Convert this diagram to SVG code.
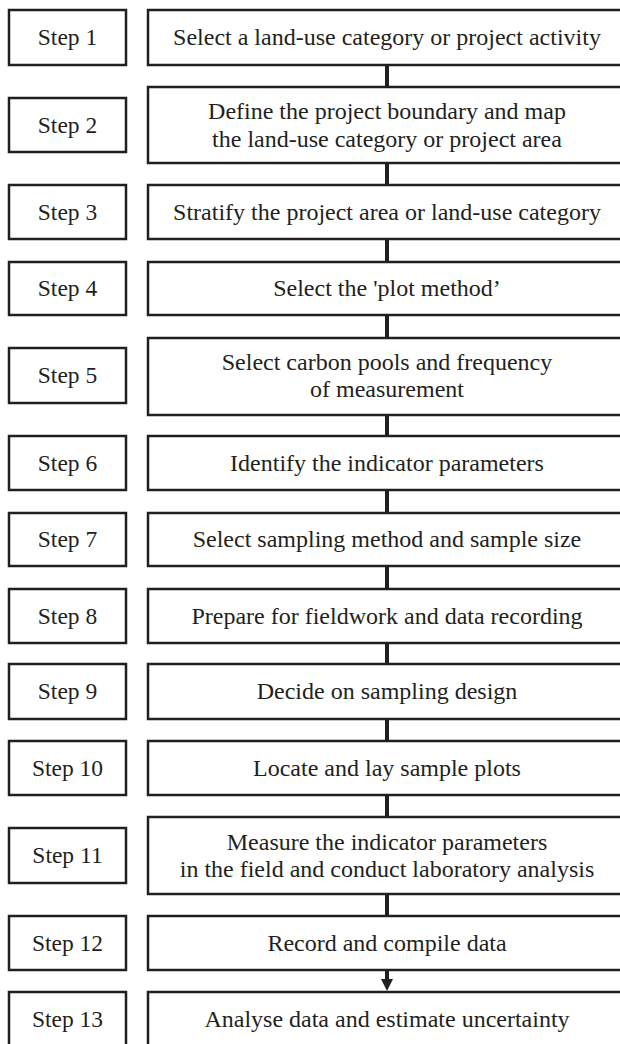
<svg xmlns="http://www.w3.org/2000/svg" width="620" height="1044" viewBox="0 0 620 1044">
  <style>
    .box { fill: #ffffff; stroke: #231f20; stroke-width: 2.5; }
    .lbl { font-family: "Liberation Serif", "Times New Roman", serif; font-size: 24px; fill: #231f20; text-anchor: middle; }
    .num { font-size: 23.5px; }
    .link { stroke: #231f20; stroke-width: 4; fill: none; }
    .head { fill: #231f20; stroke: none; }
  </style>
  <rect width="620" height="1044" fill="#ffffff"/>

  <!-- connectors between consecutive steps -->
  <g id="connectors">
    <line class="link" x1="387" y1="65" x2="387" y2="87"/>
    <line class="link" x1="387" y1="163" x2="387" y2="185"/>
    <line class="link" x1="387" y1="239" x2="387" y2="262"/>
    <line class="link" x1="387" y1="315" x2="387" y2="338"/>
    <line class="link" x1="387" y1="415" x2="387" y2="436"/>
    <line class="link" x1="387" y1="490" x2="387" y2="513"/>
    <line class="link" x1="387" y1="566" x2="387" y2="589"/>
    <line class="link" x1="387" y1="643" x2="387" y2="664"/>
    <line class="link" x1="387" y1="719" x2="387" y2="741"/>
    <line class="link" x1="387" y1="795" x2="387" y2="817"/>
    <line class="link" x1="387" y1="894" x2="387" y2="916"/>
    <line class="link" x1="387" y1="970" x2="387" y2="982"/>
    <path class="head" d="M381,979 L393,979 L387,991 Z"/>
  </g>

  <g id="step1">
    <rect class="box" x="9" y="10" width="117" height="55"/>
    <text class="lbl num" x="67.5" y="45">Step 1</text>
    <rect class="box" x="148" y="10" width="478" height="55"/>
    <text class="lbl" x="387" y="45">Select a land-use category or project activity</text>
  </g>

  <g id="step2">
    <rect class="box" x="9" y="98" width="117" height="54"/>
    <text class="lbl num" x="67.5" y="133">Step 2</text>
    <rect class="box" x="148" y="87" width="478" height="76"/>
    <text class="lbl" x="387" y="119">Define the project boundary and map</text>
    <text class="lbl" x="387" y="147">the land-use category or project area</text>
  </g>

  <g id="step3">
    <rect class="box" x="9" y="185" width="117" height="54"/>
    <text class="lbl num" x="67.5" y="220">Step 3</text>
    <rect class="box" x="148" y="185" width="478" height="54"/>
    <text class="lbl" x="387" y="220">Stratify the project area or land-use category</text>
  </g>

  <g id="step4">
    <rect class="box" x="9" y="262" width="117" height="53"/>
    <text class="lbl num" x="67.5" y="296">Step 4</text>
    <rect class="box" x="148" y="262" width="478" height="53"/>
    <text class="lbl" x="387" y="296">Select the 'plot method’</text>
  </g>

  <g id="step5">
    <rect class="box" x="9" y="348" width="117" height="55"/>
    <text class="lbl num" x="67.5" y="383">Step 5</text>
    <rect class="box" x="148" y="338" width="478" height="77"/>
    <text class="lbl" x="387" y="370">Select carbon pools and frequency</text>
    <text class="lbl" x="387" y="397">of measurement</text>
  </g>

  <g id="step6">
    <rect class="box" x="9" y="436" width="117" height="54"/>
    <text class="lbl num" x="67.5" y="471">Step 6</text>
    <rect class="box" x="148" y="436" width="478" height="54"/>
    <text class="lbl" x="387" y="471">Identify the indicator parameters</text>
  </g>

  <g id="step7">
    <rect class="box" x="9" y="513" width="117" height="53"/>
    <text class="lbl num" x="67.5" y="547">Step 7</text>
    <rect class="box" x="148" y="513" width="478" height="53"/>
    <text class="lbl" x="387" y="547">Select sampling method and sample size</text>
  </g>

  <g id="step8">
    <rect class="box" x="9" y="589" width="117" height="54"/>
    <text class="lbl num" x="67.5" y="624">Step 8</text>
    <rect class="box" x="148" y="589" width="478" height="54"/>
    <text class="lbl" x="387" y="624">Prepare for fieldwork and data recording</text>
  </g>

  <g id="step9">
    <rect class="box" x="9" y="664" width="117" height="55"/>
    <text class="lbl num" x="67.5" y="699">Step 9</text>
    <rect class="box" x="148" y="664" width="478" height="55"/>
    <text class="lbl" x="387" y="699">Decide on sampling design</text>
  </g>

  <g id="step10">
    <rect class="box" x="9" y="741" width="117" height="54"/>
    <text class="lbl num" x="67.5" y="776">Step 10</text>
    <rect class="box" x="148" y="741" width="478" height="54"/>
    <text class="lbl" x="387" y="776">Locate and lay sample plots</text>
  </g>

  <g id="step11">
    <rect class="box" x="9" y="828" width="117" height="55"/>
    <text class="lbl num" x="67.5" y="863">Step 11</text>
    <rect class="box" x="148" y="817" width="478" height="77"/>
    <text class="lbl" x="387" y="850">Measure the indicator parameters</text>
    <text class="lbl" x="387" y="877">in the field and conduct laboratory analysis</text>
  </g>

  <g id="step12">
    <rect class="box" x="9" y="916" width="117" height="54"/>
    <text class="lbl num" x="67.5" y="951">Step 12</text>
    <rect class="box" x="148" y="916" width="478" height="54"/>
    <text class="lbl" x="387" y="951">Record and compile data</text>
  </g>

  <g id="step13">
    <rect class="box" x="9" y="992" width="117" height="60"/>
    <text class="lbl num" x="67.5" y="1027">Step 13</text>
    <rect class="box" x="148" y="992" width="478" height="60"/>
    <text class="lbl" x="387" y="1027">Analyse data and estimate uncertainty</text>
  </g>
</svg>
